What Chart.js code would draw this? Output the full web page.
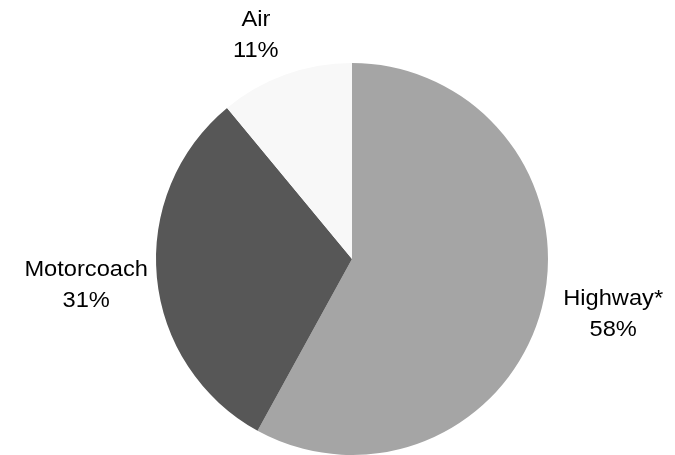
<!DOCTYPE html>
<html>
<head>
<meta charset="utf-8">
<script src="https://cdn.jsdelivr.net/npm/chart.js@4"></script>
<style>
  html, body { margin: 0; padding: 0; background: #fff; }
  #wrap { width: 675px; height: 455px; }
</style>
</head>
<body>
<div id="wrap"><canvas id="modeChart" width="675" height="455"></canvas></div>
<script>
// Share by travel mode, clockwise from 12 o'clock
const modes = ['Highway*', 'Motorcoach', 'Air'];
const shares = [58, 31, 11];
const sliceColors = ['#a5a5a5', '#575757', '#f8f8f8'];

// small per-label nudges so the text sits like outside-end labels
const labelNudge = [[2, 0], [11, 4], [-23, -22]];
const textStretch = 1.075;

const outsideLabels = {
    id: 'outsideLabels',
    afterDatasetsDraw(chart) {
        const ctx = chart.ctx;
        const meta = chart.getDatasetMeta(0);
        ctx.save();
        ctx.font = '22px "Liberation Sans", Arial, sans-serif';
        ctx.fillStyle = '#000';
        ctx.textBaseline = 'alphabetic';
        ctx.textAlign = 'center';
        meta.data.forEach((arc, i) => {
            const mid = (arc.startAngle + arc.endAngle) / 2;
            const dist = arc.outerRadius + 20;
            const ax = arc.x + Math.cos(mid) * dist;
            const ay = arc.y + Math.sin(mid) * dist;
            const lines = [modes[i], shares[i] + '%'];
            const w = Math.max(...lines.map(l => ctx.measureText(l).width)) * textStretch;
            let cx = ax;
            if (Math.cos(mid) > 0.5) cx = ax + w / 2;
            else if (Math.cos(mid) < -0.5) cx = ax - w / 2;
            cx += labelNudge[i][0];
            const cy = ay + labelNudge[i][1];
            [cy - 7.5, cy + 23.5].forEach((y, j) => {
                ctx.save();
                ctx.translate(cx, y);
                ctx.scale(textStretch, 1);
                ctx.fillText(lines[j], 0, 0);
                ctx.restore();
            });
        });
        ctx.restore();
    }
};

new Chart(document.getElementById('modeChart'), {
    type: 'pie',
    data: {
        labels: modes,
        datasets: [{
            data: shares,
            backgroundColor: sliceColors,
            borderWidth: 0
        }]
    },
    options: {
        responsive: false,
        animation: false,
        layout: { padding: { top: 63, bottom: -4, left: 30, right: 1 } },
        plugins: {
            legend: { display: false },
            tooltip: { enabled: false }
        }
    },
    plugins: [outsideLabels]
});
</script>
</body>
</html>
